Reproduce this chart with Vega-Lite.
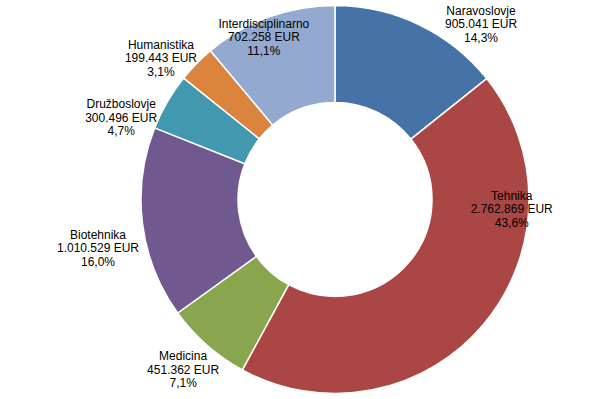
{
  "$schema": "https://vega.github.io/schema/vega-lite/v6.json",
  "width": 530,
  "height": 399,
  "autosize": "none",
  "padding": {"left": 70, "top": 0, "right": 0, "bottom": 0},
  "background": "white",
  "config": {"view": {"stroke": null}},
  "data": {"values": [
    {"idx": 1, "cat": "Naravoslovje", "value": 905041},
    {"idx": 2, "cat": "Tehnika", "value": 2762869},
    {"idx": 3, "cat": "Medicina", "value": 451362},
    {"idx": 4, "cat": "Biotehnika", "value": 1010529},
    {"idx": 5, "cat": "Družboslovje", "value": 300496},
    {"idx": 6, "cat": "Humanistika", "value": 199443},
    {"idx": 7, "cat": "Interdisciplinarno", "value": 702258}
  ]},
  "transform": [
    {"joinaggregate": [{"op": "sum", "field": "value", "as": "total"}]},
    {"calculate": "datum.cat + '\\n' + join(split(format(datum.value, ','), ','), '.') + ' EUR\\n' + join(split(format(datum.value / datum.total, '.1%'), '.'), ',')", "as": "label"}
  ],
  "encoding": {
    "theta": {"field": "value", "type": "quantitative", "stack": true},
    "order": {"field": "idx", "type": "quantitative"}
  },
  "layer": [
    {
      "mark": {"type": "arc", "outerRadius": 194, "innerRadius": 97, "stroke": "white", "strokeWidth": 1.5},
      "encoding": {
        "color": {"field": "cat", "type": "nominal", "legend": null,
          "scale": {"domain": ["Naravoslovje", "Tehnika", "Medicina", "Biotehnika", "Družboslovje", "Humanistika", "Interdisciplinarno"],
                    "range": ["#4572A7", "#AA4643", "#89A54E", "#71588F", "#4198AF", "#DB843D", "#93A9CF"]}}
      }
    },
    {
      "mark": {"type": "text", "radius": 228, "thetaOffset": 0.246, "dy": -13.5, "font": "Liberation Sans", "fontSize": 12, "lineBreak": "\n", "lineHeight": 13.5, "align": "center", "baseline": "middle", "color": "#000000"},
      "encoding": {"text": {"condition": {"test": "datum.cat !== 'Naravoslovje'", "value": ""}, "field": "label", "type": "nominal"}}
    },
    {
      "mark": {"type": "text", "radius": 177, "thetaOffset": -0.642, "dy": -13.5, "font": "Liberation Sans", "fontSize": 12, "lineBreak": "\n", "lineHeight": 13.5, "align": "center", "baseline": "middle", "color": "#000000"},
      "encoding": {"text": {"condition": {"test": "datum.cat !== 'Tehnika'", "value": ""}, "field": "label", "type": "nominal"}}
    },
    {
      "mark": {"type": "text", "radius": 228, "thetaOffset": 0.007, "dy": -13.5, "font": "Liberation Sans", "fontSize": 12, "lineBreak": "\n", "lineHeight": 13.5, "align": "center", "baseline": "middle", "color": "#000000"},
      "encoding": {"text": {"condition": {"test": "datum.cat !== 'Medicina'", "value": ""}, "field": "label", "type": "nominal"}}
    },
    {
      "mark": {"type": "text", "radius": 242, "thetaOffset": -0.080, "dy": -13.5, "font": "Liberation Sans", "fontSize": 12, "lineBreak": "\n", "lineHeight": 13.5, "align": "center", "baseline": "middle", "color": "#000000"},
      "encoding": {"text": {"condition": {"test": "datum.cat !== 'Biotehnika'", "value": ""}, "field": "label", "type": "nominal"}}
    },
    {
      "mark": {"type": "text", "radius": 229, "thetaOffset": -0.161, "dy": -13.5, "font": "Liberation Sans", "fontSize": 12, "lineBreak": "\n", "lineHeight": 13.5, "align": "center", "baseline": "middle", "color": "#000000"},
      "encoding": {"text": {"condition": {"test": "datum.cat !== 'Družboslovje'", "value": ""}, "field": "label", "type": "nominal"}}
    },
    {
      "mark": {"type": "text", "radius": 224, "thetaOffset": -0.094, "dy": -13.5, "font": "Liberation Sans", "fontSize": 12, "lineBreak": "\n", "lineHeight": 13.5, "align": "center", "baseline": "middle", "color": "#000000"},
      "encoding": {"text": {"condition": {"test": "datum.cat !== 'Humanistika'", "value": ""}, "field": "label", "type": "nominal"}}
    },
    {
      "mark": {"type": "text", "radius": 177, "thetaOffset": -0.065, "dy": -13.5, "font": "Liberation Sans", "fontSize": 12, "lineBreak": "\n", "lineHeight": 13.5, "align": "center", "baseline": "middle", "color": "#000000"},
      "encoding": {"text": {"condition": {"test": "datum.cat !== 'Interdisciplinarno'", "value": ""}, "field": "label", "type": "nominal"}}
    }
  ]
}
